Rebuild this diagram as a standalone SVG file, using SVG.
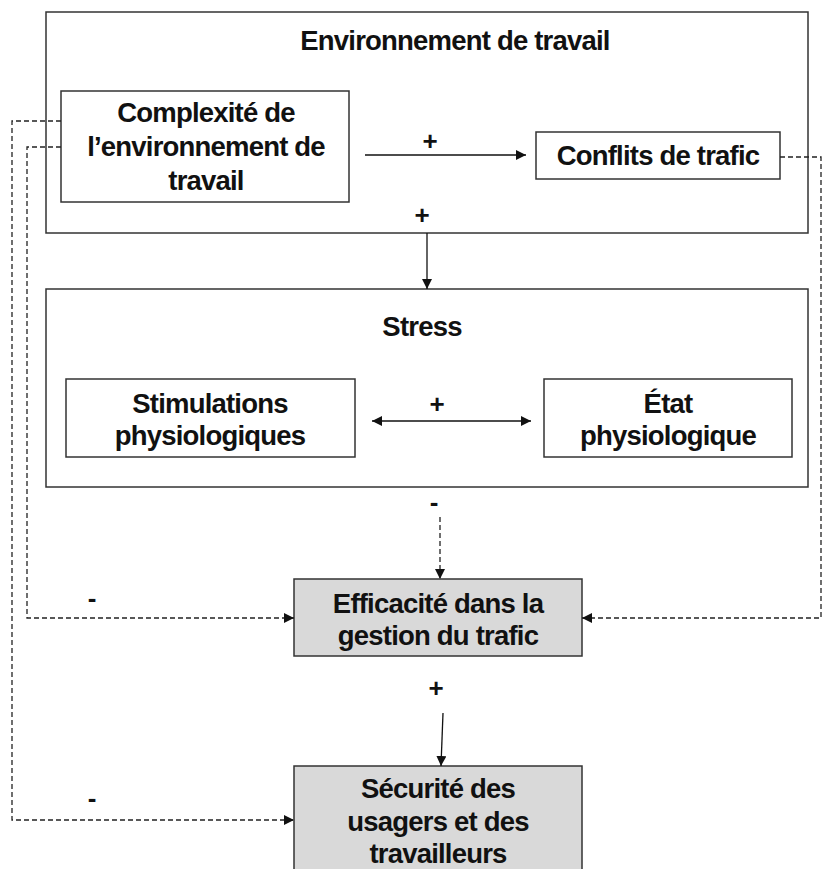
<svg xmlns="http://www.w3.org/2000/svg" width="823" height="869" viewBox="0 0 823 869">
<style>
.box{fill:#fff;stroke:#333;stroke-width:1.5}
.gbox{fill:#d9d9d9;stroke:#333;stroke-width:1.5}
.t{font-family:"Liberation Sans",Arial,sans-serif;font-weight:bold;font-size:27.5px;fill:#111;text-anchor:middle;letter-spacing:-0.8px}
.sign{font-family:"Liberation Sans",Arial,sans-serif;font-weight:bold;font-size:26px;fill:#111;text-anchor:middle}
.solid{fill:none;stroke:#111;stroke-width:1.3}
.dash{fill:none;stroke:#222;stroke-width:1.3;stroke-dasharray:5 3}
</style>
<defs>
<marker id="ah" viewBox="0 0 10 10" refX="10" refY="5" markerWidth="10" markerHeight="10" markerUnits="userSpaceOnUse" orient="auto-start-reverse">
<path d="M0,0 L10,5 L0,10 Z" fill="#111"/>
</marker>
</defs>
<g id="env">
<rect class="box" x="46" y="12" width="762" height="221"/>
<text class="t" x="455" y="50">Environnement de travail</text>
</g>
<g id="complexite">
<rect class="box" x="61" y="91" width="288" height="111"/>
<text class="t" x="206" y="122">Complexité de</text>
<text class="t" x="206" y="156">l’environnement de</text>
<text class="t" x="206" y="190">travail</text>
</g>
<g id="conflits">
<rect class="box" x="536" y="132" width="244" height="47"/>
<text class="t" x="658" y="165">Conflits de trafic</text>
</g>
<g id="stress">
<rect class="box" x="46" y="289" width="762" height="198"/>
<text class="t" x="422" y="336">Stress</text>
</g>
<g id="stimulations">
<rect class="box" x="66" y="379" width="289" height="78"/>
<text class="t" x="210" y="413">Stimulations</text>
<text class="t" x="210" y="445">physiologiques</text>
</g>
<g id="etat">
<rect class="box" x="544" y="379" width="248" height="78"/>
<text class="t" x="668" y="413">État</text>
<text class="t" x="668" y="445">physiologique</text>
</g>
<g id="efficacite">
<rect class="gbox" x="294" y="579" width="288" height="77"/>
<text class="t" x="438" y="613">Efficacité dans la</text>
<text class="t" x="438" y="645">gestion du trafic</text>
</g>
<g id="securite">
<rect class="gbox" x="294" y="766" width="288" height="115"/>
<text class="t" x="438" y="798">Sécurité des</text>
<text class="t" x="438" y="831">usagers et des</text>
<text class="t" x="438" y="863">travailleurs</text>
</g>
<g id="connectors">
<path class="solid" d="M365,155 H526" marker-end="url(#ah)"/>
<path class="solid" d="M427,233 V289" marker-end="url(#ah)"/>
<path class="solid" d="M372,421 H531" marker-start="url(#ah)" marker-end="url(#ah)"/>
<path class="solid" d="M443,713 L441,766" marker-end="url(#ah)"/>
<path class="dash" d="M440,517 V579" marker-end="url(#ah)"/>
<path class="dash" d="M61,147 H27 V618 H294" marker-end="url(#ah)"/>
<path class="dash" d="M61,121 H12 V820 H294" marker-end="url(#ah)"/>
<path class="dash" d="M780,157 H821 V618 H582" marker-end="url(#ah)"/>
<text class="sign" x="430" y="150">+</text>
<text class="sign" x="422" y="224">+</text>
<text class="sign" x="437" y="413">+</text>
<text class="sign" x="434" y="511">-</text>
<text class="sign" x="92" y="607">-</text>
<text class="sign" x="436" y="697">+</text>
<text class="sign" x="92" y="807">-</text>
</g>
</svg>
